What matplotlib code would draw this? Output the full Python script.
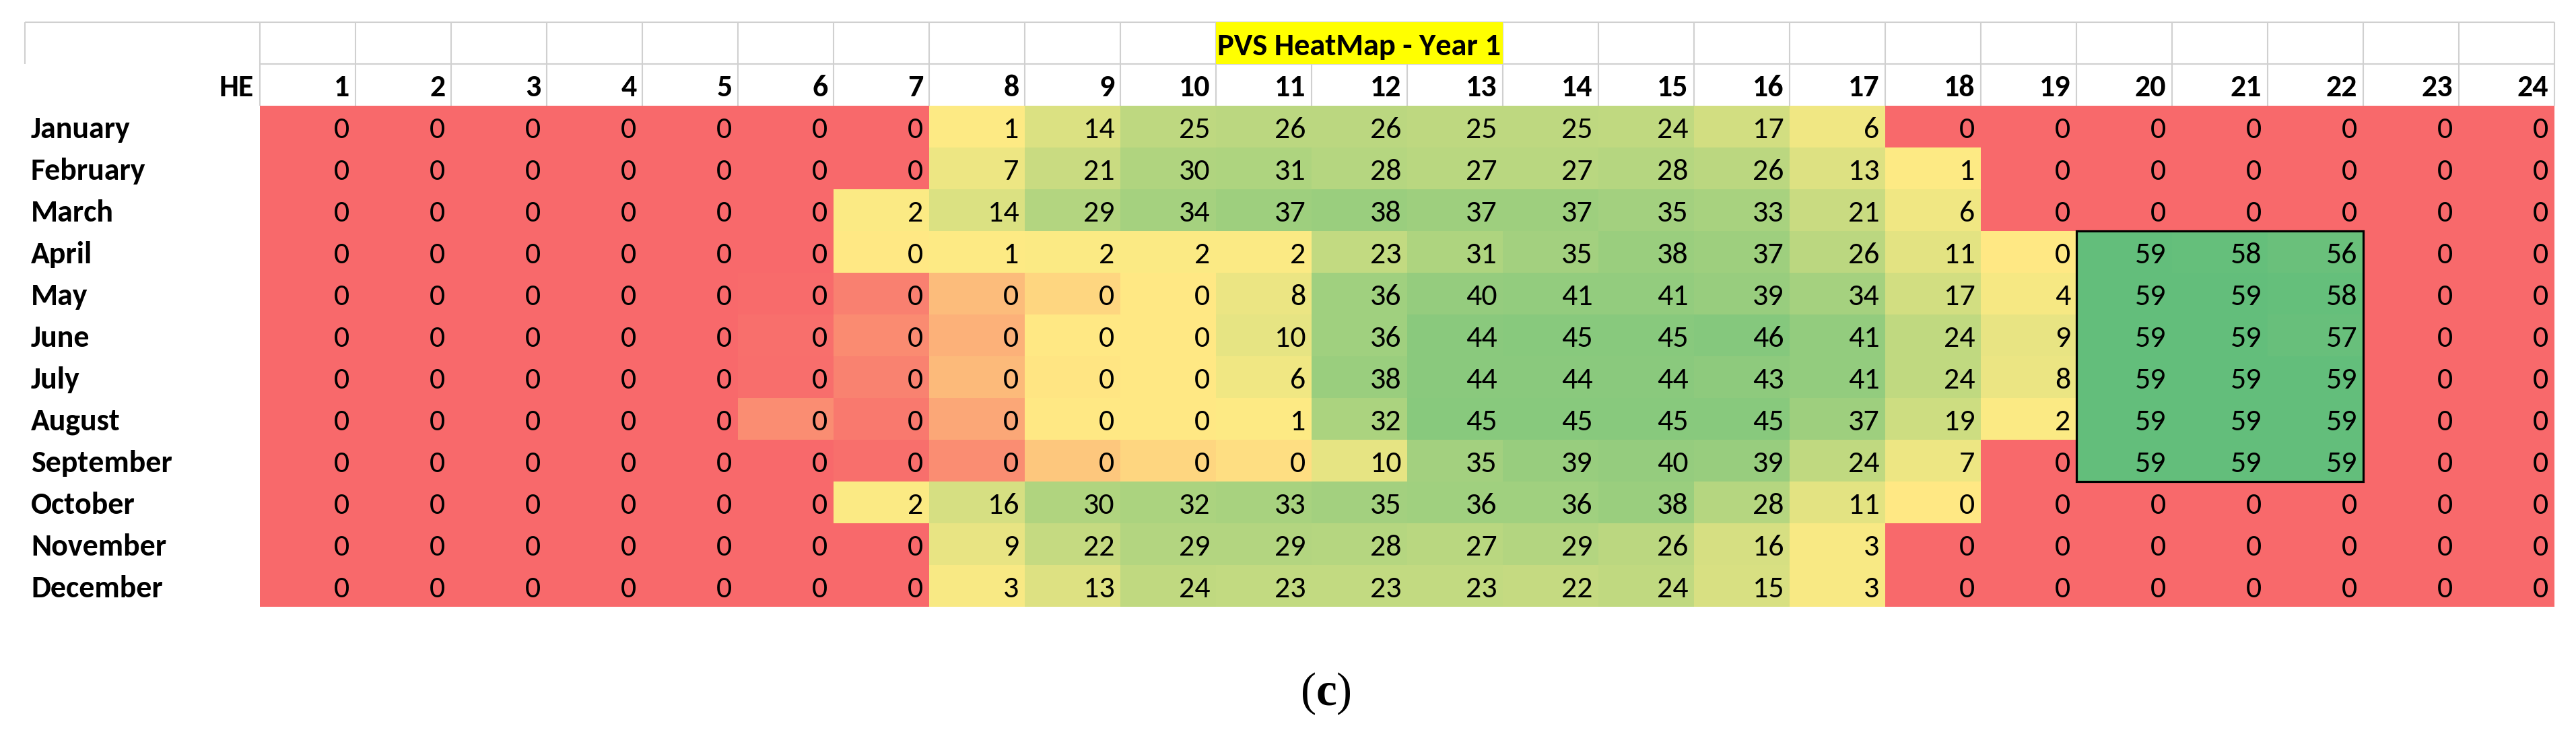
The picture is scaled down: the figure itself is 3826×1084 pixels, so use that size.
import numpy as np
import matplotlib
matplotlib.use("Agg")
import matplotlib.pyplot as plt
from matplotlib.colors import LinearSegmentedColormap, TwoSlopeNorm
from matplotlib.patches import Rectangle
from matplotlib import font_manager

# ---------------- data ----------------
title = "PVS HeatMap - Year 1"
corner_label = "HE"
caption_letter = "c"
months = ["January", "February", "March", "April", "May", "June", "July",
          "August", "September", "October", "November", "December"]
hours = list(range(1, 25))

# underlying cell values (shown rounded to integers; small fractions give the shading of "0" cells)
january   = [0, 0, 0, 0, 0, 0, 0, 1, 14, 25, 26, 26, 25, 25, 24, 17, 6, 0, 0, 0, 0, 0, 0, 0]
february  = [0, 0, 0, 0, 0, 0, 0, 7, 21, 30, 31, 28, 27, 27, 28, 26, 13, 1, 0, 0, 0, 0, 0, 0]
march     = [0, 0, 0, 0, 0, 0, 2, 14, 29, 34, 37, 38, 37, 37, 35, 33, 21, 6, 0, 0, 0, 0, 0, 0]
april     = [0, 0, 0, 0, 0, 0, 0.49, 1, 2, 2, 2, 23, 31, 35, 38, 37, 26, 11, 0.49, 59, 58, 56, 0, 0]
may       = [0, 0, 0, 0, 0, 0.01, 0.09, 0.32, 0.42, 0.49, 8, 36, 40, 41, 41, 39, 34, 17, 4, 59, 59, 58, 0, 0]
june      = [0, 0, 0, 0, 0, 0.025, 0.13, 0.28, 0.49, 0.49, 10, 36, 44, 45, 45, 46, 41, 24, 9, 59, 59, 57, 0, 0]
july      = [0, 0, 0, 0, 0, 0.02, 0.10, 0.31, 0.48, 0.49, 6, 38, 44, 44, 44, 43, 41, 24, 8, 59, 59, 59, 0, 0]
august    = [0, 0, 0, 0, 0, 0.14, 0.065, 0.24, 0.49, 0.49, 1, 32, 45, 45, 45, 45, 37, 19, 2, 59, 59, 59, 0, 0]
september = [0, 0, 0, 0, 0, 0, 0.025, 0.14, 0.36, 0.42, 0.45, 10, 35, 39, 40, 39, 24, 7, 0, 59, 59, 59, 0, 0]
october   = [0, 0, 0, 0, 0, 0, 2, 16, 30, 32, 33, 35, 36, 36, 38, 28, 11, 0.49, 0, 0, 0, 0, 0, 0]
november  = [0, 0, 0, 0, 0, 0, 0, 9, 22, 29, 29, 28, 27, 29, 26, 16, 3, 0, 0, 0, 0, 0, 0, 0]
december  = [0, 0, 0, 0, 0, 0, 0, 3, 13, 24, 23, 23, 23, 22, 24, 15, 3, 0, 0, 0, 0, 0, 0, 0]

# highlighted block: hours 20-22, April-September
box_hours = (20, 22)
box_months = ("April", "September")

values = np.array([january, february, march, april, may, june, july, august,
                   september, october, november, december], dtype=float)

# ---------------- style ----------------
names = {f.name for f in font_manager.fontManager.ttflist}
if "Carlito" in names:
    fam, fs, fs_title = "Carlito", 33, 33.5
else:
    fam, fs, fs_title = "Liberation Sans", 28, 30

plt.rcParams["font.family"] = [fam, "DejaVu Sans"]
plt.rcParams["mathtext.fontset"] = "custom"
plt.rcParams["mathtext.bf"] = "Liberation Serif:bold"
plt.rcParams["mathtext.rm"] = "Liberation Serif"

cmap = LinearSegmentedColormap.from_list(
    "excel_ryg", [(0.0, "#F8696B"), (0.5, "#FFEB84"), (1.0, "#63BE7B")])
norm = TwoSlopeNorm(vmin=0, vcenter=0.5, vmax=59)

W, H = 3826, 1084
fig = plt.figure(figsize=(W / 100, H / 100), dpi=100)
x0, x1, y0, y1 = 386, 3794, 157, 901
ax = fig.add_axes([x0 / W, 1 - y1 / H, (x1 - x0) / W, (y1 - y0) / H])

ncol = len(hours)
nrow = len(months)
ax.pcolormesh(np.arange(ncol + 1), np.arange(nrow + 1), values,
              cmap=cmap, norm=norm, shading="flat", zorder=1)
ax.set_xlim(0, ncol)
ax.set_ylim(nrow, 0)
ax.axis("off")

grid_c = "#D0D0D0"
grid_lw = 1.5
left_border = -2.458
# header grid
ax.hlines(-2, left_border, ncol, color=grid_c, lw=grid_lw, clip_on=False, zorder=2)
ax.hlines(-1, 0, ncol, color=grid_c, lw=grid_lw, clip_on=False, zorder=2)
ax.vlines(np.arange(ncol + 1), -2, 0, color=grid_c, lw=grid_lw, clip_on=False, zorder=2)
ax.vlines(left_border, -2, -1, color=grid_c, lw=grid_lw, clip_on=False, zorder=2)

# title cell
ax.add_patch(Rectangle((10, -2), 3, 1, facecolor="#FFFF00", edgecolor="none",
                       clip_on=False, zorder=3))
ax.text(11.5, -1.21, title, ha="center", va="baseline", fontsize=fs_title,
        fontweight="bold", clip_on=False, zorder=4)

pad = 0.06
base = 0.774
# header numbers
for c, h in enumerate(hours):
    ax.text(c + 1 - pad, -0.226, str(h), ha="right", va="baseline", fontsize=fs,
            fontweight="bold", clip_on=False)
ax.text(-0.063, -0.226, corner_label, ha="right", va="baseline", fontsize=fs,
        fontweight="bold", clip_on=False)

# month labels
for r, m in enumerate(months):
    ax.text(-2.395, r + base, m, ha="left", va="baseline", fontsize=fs,
            fontweight="bold", clip_on=False)

# cell values
for r in range(nrow):
    for c in range(ncol):
        ax.text(c + 1 - pad, r + base, f"{values[r, c]:.0f}", ha="right",
                va="baseline", fontsize=fs, zorder=5)

# highlight box
bc0 = hours.index(box_hours[0])
bc1 = hours.index(box_hours[1]) + 1
br0 = months.index(box_months[0])
br1 = months.index(box_months[1]) + 1
ax.add_patch(Rectangle((bc0, br0), bc1 - bc0, br1 - br0, facecolor="none",
                       edgecolor="black", lw=2.3, zorder=6, clip_on=False))

# caption
fig.text(1969 / W, 1 - 1047 / H, "($\\mathbf{" + caption_letter + "}$)", ha="center",
         va="baseline", fontsize=50, family="Liberation Serif")

fig.savefig("out.png", dpi=100)
